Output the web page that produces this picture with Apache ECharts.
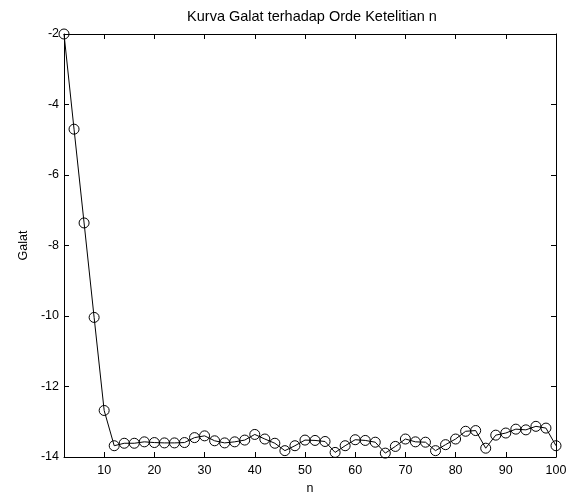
<!DOCTYPE html>
<html>
<head>
<meta charset="utf-8">
<script src="https://cdn.jsdelivr.net/npm/echarts@6/dist/echarts.min.js"></script>
<style>html,body{margin:0;padding:0;background:#fff}#c{width:573px;height:500px}</style>
</head>
<body>
<div id="c"></div>
<script>
var nValues = [2,4,6,8,10,12,14,16,18,20,22,24,26,28,30,32,34,36,38,40,42,44,46,48,50,52,54,56,58,60,62,64,66,68,70,72,74,76,78,80,82,84,86,88,90,92,94,96,98,100];
var galatValues = [-2.0,-4.70,-7.36,-10.04,-12.68,-13.68,-13.61,-13.61,-13.57,-13.59,-13.60,-13.60,-13.59,-13.45,-13.40,-13.54,-13.60,-13.57,-13.52,-13.36,-13.49,-13.61,-13.82,-13.68,-13.52,-13.53,-13.56,-13.87,-13.68,-13.51,-13.53,-13.58,-13.89,-13.70,-13.49,-13.57,-13.58,-13.82,-13.65,-13.49,-13.27,-13.25,-13.75,-13.38,-13.32,-13.21,-13.23,-13.13,-13.18,-13.68];
var xTicks = [10,20,30,40,50,60,70,80,90,100];
var titleText = 'Kurva Galat terhadap Orde Ketelitian n';
var xName = 'n';
var yName = 'Galat';

var font = 'Liberation Sans, Arial, sans-serif';
var axisLine = {show:true, onZero:false, lineStyle:{color:'#000', width:1}};
var tick = {show:true, inside:true, length:5, lineStyle:{color:'#000', width:1}};

var chart = echarts.init(document.getElementById('c'), null, {renderer:'canvas'});
chart.setOption({
  backgroundColor:'#fff',
  animation:false,
  title:{text:titleText, left:307, textAlign:'center', top:4, textStyle:{fontFamily:font, fontSize:14.5, fontWeight:'normal', color:'#000'}},
  grid:{left:64, right:17, top:34, bottom:42, containLabel:false},
  xAxis:[{
    type:'value', min:2, max:100, position:'bottom',
    axisLine:axisLine,
    axisTick:Object.assign({customValues:xTicks}, tick),
    axisLabel:{customValues:xTicks, color:'#000', fontFamily:font, fontSize:12.5, margin:7},
    splitLine:{show:false},
    name:xName, nameLocation:'middle', nameGap:25, nameTextStyle:{color:'#000', fontFamily:font, fontSize:12.5}
  },{
    type:'value', min:2, max:100, position:'top',
    axisLine:axisLine,
    axisTick:Object.assign({customValues:xTicks}, tick),
    axisLabel:{show:false}, splitLine:{show:false}
  }],
  yAxis:[{
    type:'value', min:-14, max:-2, interval:2, position:'left',
    axisLine:axisLine, axisTick:tick,
    axisLabel:{color:'#000', fontFamily:font, fontSize:12.5, margin:5},
    splitLine:{show:false},
    name:yName, nameLocation:'middle', nameGap:34, nameRotate:90, nameTextStyle:{color:'#000', fontFamily:font, fontSize:12.5}
  },{
    type:'value', min:-14, max:-2, interval:2, position:'right',
    axisLine:axisLine, axisTick:tick,
    axisLabel:{show:false}, splitLine:{show:false}
  }],
  series:[{
    type:'line',
    data:nValues.map(function(n,i){return [n, galatValues[i]];}),
    symbol:'circle', symbolSize:10, showAllSymbol:true,
    lineStyle:{color:'#000', width:1},
    itemStyle:{color:'rgba(0,0,0,0)', borderColor:'#000', borderWidth:1},
    clip:false
  }]
});
</script>
</body>
</html>
